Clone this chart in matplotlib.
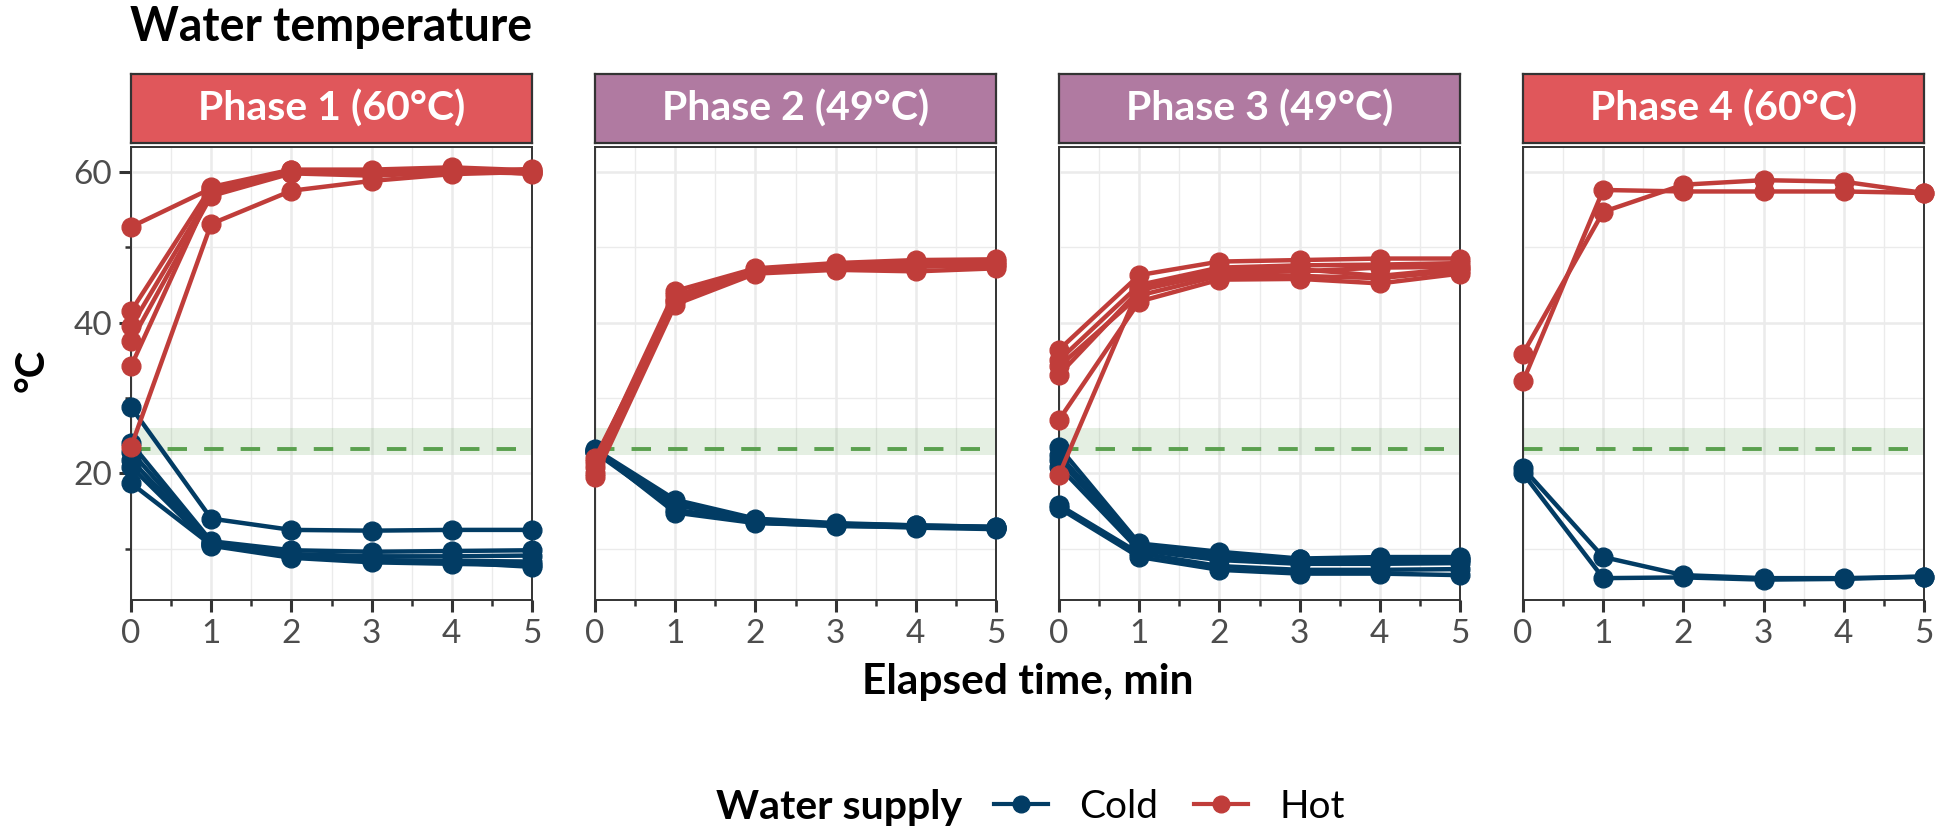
import matplotlib.pyplot as plt
from matplotlib.lines import Line2D
from matplotlib.ticker import MultipleLocator

plt.rcParams['font.family'] = ['Lato', 'DejaVu Sans']

minutes = [0, 1, 2, 3, 4, 5]
phase_labels = ["Phase 1 (60°C)", "Phase 2 (49°C)", "Phase 3 (49°C)", "Phase 4 (60°C)"]
strip_colors = ["#E0575B", "#B07AA1", "#B07AA1", "#E0575B"]

# hot water runs, one row per outlet
hot_p1 = [
    [52.7, 57.8, 59.9, 60.0, 60.2, 60.0],
    [41.5, 58.0, 60.3, 60.3, 60.6, 60.2],
    [39.5, 57.3, 60.0, 59.8, 60.0, 59.8],
    [37.5, 56.8, 59.8, 59.5, 59.9, 60.4],
    [34.2, 57.5, 60.2, 60.1, 60.4, 59.7],
    [23.5, 53.1, 57.5, 58.8, 59.7, 60.0],
]
cold_p1 = [
    [28.8, 14.0, 12.5, 12.4, 12.5, 12.5],
    [24.0, 11.0, 9.8, 9.6, 9.7, 9.8],
    [22.9, 10.8, 9.3, 9.0, 9.0, 9.1],
    [21.8, 10.6, 9.0, 8.5, 8.4, 8.3],
    [20.9, 10.4, 8.8, 8.2, 8.0, 7.8],
    [18.7, 10.5, 9.1, 8.4, 8.2, 7.6],
]
hot_p2 = [
    [21.5, 44.2, 47.2, 47.9, 48.3, 48.4],
    [20.8, 43.6, 46.9, 47.6, 48.0, 48.2],
    [20.0, 42.9, 46.7, 47.2, 47.4, 47.6],
    [19.5, 42.4, 46.5, 47.0, 46.8, 47.2],
    [22.0, 43.0, 47.0, 47.4, 47.8, 47.8],
]
cold_p2 = [
    [23.2, 16.5, 14.0, 13.4, 13.1, 12.9],
    [23.0, 15.8, 13.8, 13.2, 13.0, 12.8],
    [22.8, 15.2, 13.5, 13.0, 12.9, 12.7],
    [23.1, 14.8, 13.4, 13.1, 12.8, 12.6],
    [22.9, 16.0, 13.7, 13.3, 13.1, 12.9],
]
hot_p3 = [
    [36.4, 46.3, 48.1, 48.3, 48.5, 48.5],
    [35.0, 45.0, 47.3, 47.6, 47.7, 47.9],
    [33.1, 44.3, 46.6, 46.8, 47.3, 47.4],
    [34.2, 43.6, 46.2, 46.2, 45.9, 46.9],
    [27.1, 42.8, 45.7, 45.8, 45.2, 46.5],
    [19.8, 44.6, 46.9, 47.1, 46.2, 47.2],
]
cold_p3 = [
    [23.5, 10.7, 9.6, 8.7, 8.9, 8.9],
    [21.8, 10.2, 9.0, 8.3, 8.4, 8.5],
    [20.9, 9.8, 8.5, 8.0, 8.0, 8.1],
    [15.8, 9.4, 7.7, 7.2, 7.2, 7.3],
    [15.4, 8.9, 7.2, 6.7, 6.7, 6.5],
    [22.5, 10.4, 9.3, 8.6, 8.7, 8.6],
]
hot_p4 = [
    [32.2, 57.6, 57.4, 57.4, 57.4, 57.2],
    [35.9, 54.7, 58.3, 58.9, 58.7, 57.2],
]
cold_p4 = [
    [20.7, 8.9, 6.5, 6.1, 6.1, 6.3],
    [20.0, 6.1, 6.2, 5.9, 6.0, 6.3],
]

ref_temp = 23.2
ref_band = (22.4, 26.0)

hot_runs = [hot_p1, hot_p2, hot_p3, hot_p4]
cold_runs = [cold_p1, cold_p2, cold_p3, cold_p4]

HOT = "#C03D3A"
COLD = "#023C64"
GREEN = "#5AA04E"

W, H = 1941, 831
fig = plt.figure(figsize=(W / 100, H / 100), dpi=100)

lefts = [131, 595, 1059, 1523]
pw = 401
ptop, pbot = 147, 600
stop, sbot = 74, 143

for i in range(4):
    ax = fig.add_axes([lefts[i] / W, 1 - pbot / H, pw / W, (pbot - ptop) / H])
    ax.set_xlim(0, 5)
    ax.set_ylim(3.2, 63.3)
    ax.xaxis.set_major_locator(MultipleLocator(1))
    ax.xaxis.set_minor_locator(MultipleLocator(0.5))
    ax.yaxis.set_major_locator(MultipleLocator(20))
    ax.yaxis.set_minor_locator(MultipleLocator(10))
    ax.grid(which='major', color='#EBEBEB', lw=1.8, zorder=0)
    ax.grid(which='minor', color='#EBEBEB', lw=1.0, zorder=0)
    ax.set_axisbelow(True)
    for s in ax.spines.values():
        s.set_color('#333333')
        s.set_linewidth(1.4)
    ax.tick_params(which='major', length=8.5, width=2.2, color='#333333',
                   labelsize=24, labelcolor='#4D4D4D', pad=5)
    ax.tick_params(which='minor', length=4.5, width=1.8, color='#333333')
    if i > 0:
        ax.tick_params(axis='y', which='both', left=False, labelleft=False)

    ax.axhspan(ref_band[0], ref_band[1], color=GREEN, alpha=0.16, lw=0, zorder=1)
    ax.axhline(ref_temp, color=GREEN, lw=2.8, ls=(0, (5.0, 4.4)), zorder=1.5)

    for run in cold_runs[i]:
        ax.plot(minutes, run, color=COLD, lw=3.2, marker='o', ms=13.5,
                clip_on=False, zorder=3)
    for run in hot_runs[i]:
        ax.plot(minutes, run, color=HOT, lw=3.2, marker='o', ms=13.5,
                clip_on=False, zorder=3)

    # facet strip
    sax = fig.add_axes([lefts[i] / W, 1 - sbot / H, pw / W, (sbot - stop) / H])
    sax.set_facecolor(strip_colors[i])
    sax.set_xticks([])
    sax.set_yticks([])
    for s in sax.spines.values():
        s.set_color('#333333')
        s.set_linewidth(1.6)
    sax.text(0.5, 0.5, phase_labels[i], ha='center', va='center',
             color='white', fontsize=29.5, fontweight='bold',
             transform=sax.transAxes)

fig.text(130 / W, 1 - 27 / H, "Water temperature", fontsize=33.5,
         fontweight='bold', ha='left', va='center')
fig.text(32 / W, 1 - 370 / H, "°C", fontsize=29, fontweight='bold',
         rotation=90, ha='center', va='center')
fig.text(1028 / W, 1 - 682 / H, "Elapsed time, min", fontsize=30.5,
         fontweight='bold', ha='center', va='center')

# legend
fig.text(716 / W, 1 - 807 / H, "Water supply", fontsize=29.5,
         fontweight='bold', ha='left', va='center')
handles = [
    Line2D([], [], color=COLD, lw=3.0, marker='o', ms=12, label='Cold'),
    Line2D([], [], color=HOT, lw=3.0, marker='o', ms=12, label='Hot'),
]
fig.legend(handles=handles, loc='center left', bbox_to_anchor=(994 / W, 1 - 807 / H),
           ncol=2, frameon=False, fontsize=28, handlelength=1.4,
           handletextpad=0.8, columnspacing=0.9, borderaxespad=0, borderpad=0)

fig.savefig("out.png", dpi=100)
